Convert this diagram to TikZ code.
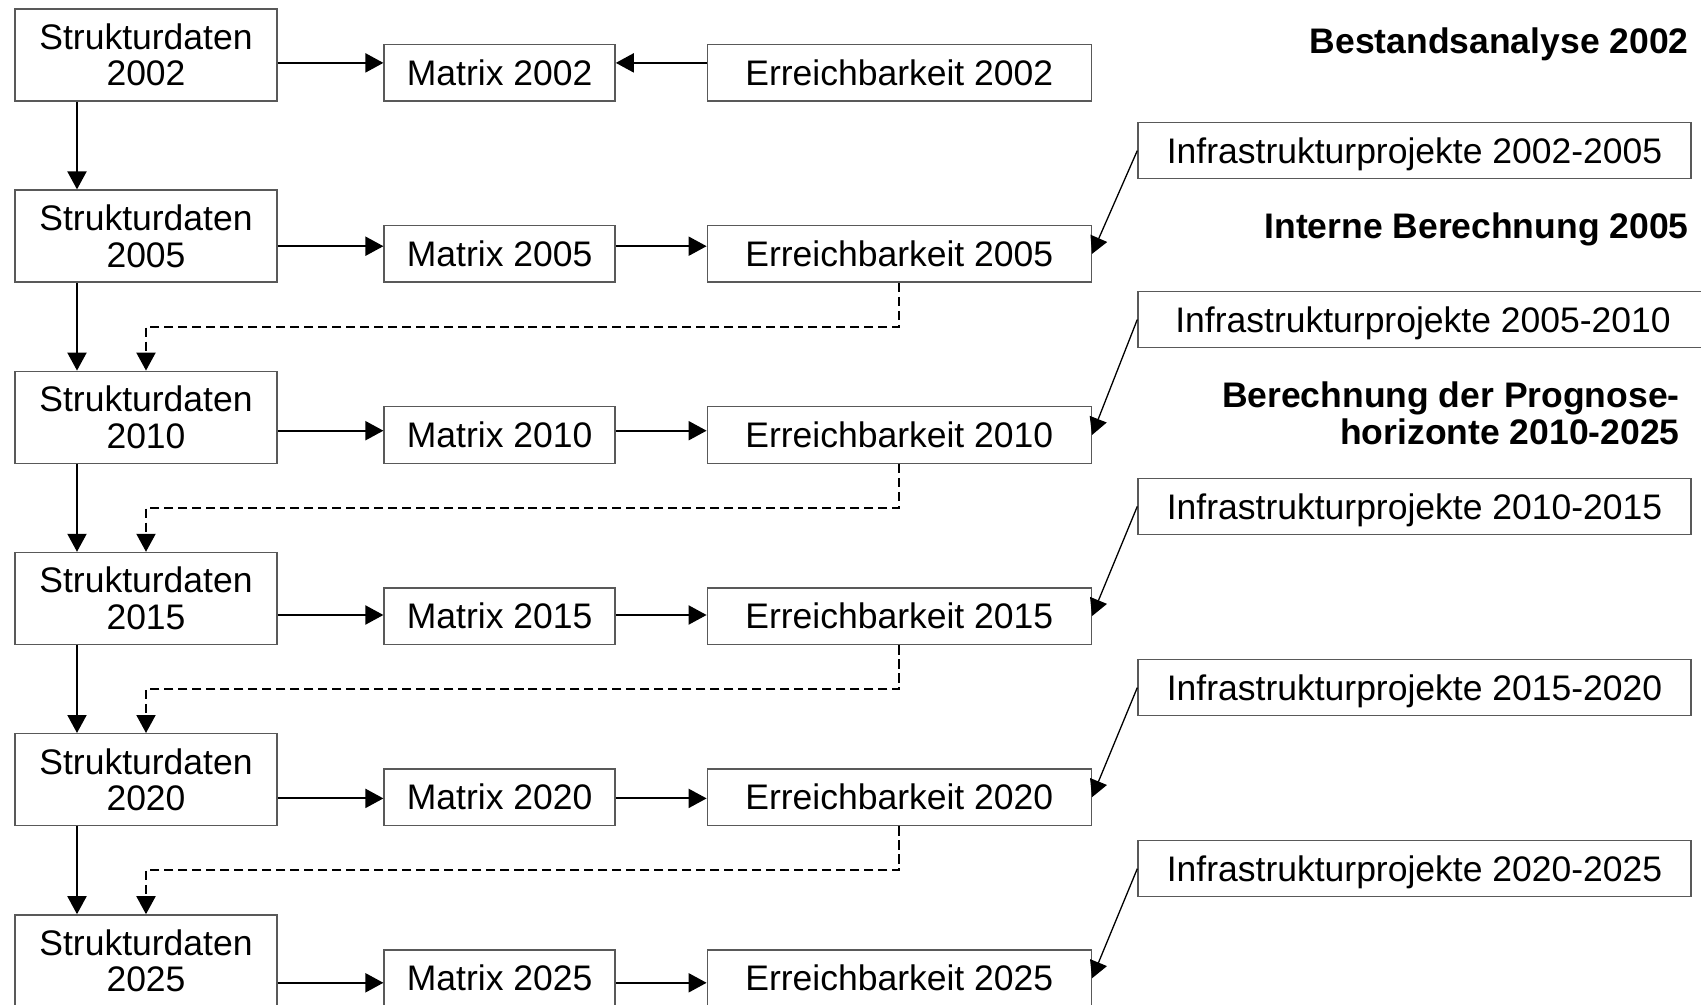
\documentclass[tikz,border=0pt]{standalone}
\usepackage{fontspec}
\setmainfont{Liberation Sans}
\usetikzlibrary{arrows.meta,calc,positioning}
\newcommand{\boxfont}{\fontsize{17.75pt}{18.3pt}\selectfont}

\begin{document}
\begin{tikzpicture}
	% Styles
	[
	x=0.5pt, y=-0.5pt,
	box/.style={rectangle, draw=black!65, line width=0.7pt, inner sep=0pt, align=center, font=\boxfont},
	struct/.style={box, minimum width=131pt, minimum height=46pt},
	mat/.style={box, minimum width=115.5pt, minimum height=28.25pt},
	reach/.style={box, minimum width=192pt, minimum height=28.25pt},
	infra/.style={box, minimum width=276.5pt, minimum height=28pt, text depth=0pt},
	phase/.style={font=\boxfont\bfseries, align=right, anchor=base east, inner sep=0pt},
	arr/.style={-{Triangle[length=9pt,width=9.5pt]}, line width=1pt},
	dsh/.style={arr, dash pattern=on 4.75pt off 2.25pt},
	feed/.style={-{Triangle[length=8.5pt,width=9pt]}, line width=0.65pt}
	]

	\useasboundingbox (0,0) rectangle (1701,1005);
	\clip (0,0) rectangle (1701,1005);

	% Nodes
	\node at (146,54.9)	(s02)	[struct] {Strukturdaten\\2002};
	\node at (146,236.1)	(s05)	[struct] {Strukturdaten\\2005};
	\node at (146,417.3)	(s10)	[struct] {Strukturdaten\\2010};
	\node at (146,598.5)	(s15)	[struct] {Strukturdaten\\2015};
	\node at (146,779.7)	(s20)	[struct] {Strukturdaten\\2020};
	\node at (146,960.9)	(s25)	[struct] {Strukturdaten\\2025};

	\node at (499.6,72.8)	(m02)	[mat] {Matrix 2002};
	\node at (499.6,253.9)	(m05)	[mat] {Matrix 2005};
	\node at (499.6,435)	(m10)	[mat] {Matrix 2010};
	\node at (499.6,616.1)	(m15)	[mat] {Matrix 2015};
	\node at (499.6,797.2)	(m20)	[mat] {Matrix 2020};
	\node at (499.6,978.3)	(m25)	[mat] {Matrix 2025};

	\node at (899.3,72.8)	(e02)	[reach] {Erreichbarkeit 2002};
	\node at (899.3,253.9)	(e05)	[reach] {Erreichbarkeit 2005};
	\node at (899.3,435)	(e10)	[reach] {Erreichbarkeit 2010};
	\node at (899.3,616.1)	(e15)	[reach] {Erreichbarkeit 2015};
	\node at (899.3,797.2)	(e20)	[reach] {Erreichbarkeit 2020};
	\node at (899.3,978.3)	(e25)	[reach] {Erreichbarkeit 2025};

	\node at (1414.5,150.6)	(i05)	[infra] {Infrastrukturprojekte 2002-2005};
	\node at (1423,319.5)	(i10)	[infra, minimum width=285pt] {Infrastrukturprojekte 2005-2010};
	\node at (1414.5,506.4)	(i15)	[infra] {Infrastrukturprojekte 2010-2015};
	\node at (1414.5,687.6)	(i20)	[infra] {Infrastrukturprojekte 2015-2020};
	\node at (1414.5,868.7)	(i25)	[infra] {Infrastrukturprojekte 2020-2025};

	\node at (1689,53.3)	(bestand)	[phase] {Bestandsanalyse 2002};
	\node at (1689,238.3)	(intern)	[phase] {Interne Berechnung 2005};
	\node at (1680,444.5)	(prognose)	[phase] {Berechnung der Prognose-\\horizonte 2010-2025};

	% Connections
	\draw[arr] (s02.east |- 0,62.9) -- (m02.west |- 0,62.9);
	\draw[arr] (e02.west |- 0,62.9) -- (m02.east |- 0,62.9);
	\foreach \yr/\h in {05/246.2, 10/430.7, 15/615, 20/798.4, 25/982.8}{
		\draw[arr] (s\yr.east |- 0,\h) -- (m\yr.west |- 0,\h);
		\draw[arr] (m\yr.east |- 0,\h) -- (e\yr.west |- 0,\h);
		\draw[feed] (i\yr.west) -- (e\yr.east);
	}
	\foreach \a/\b in {02/05, 05/10, 10/15, 15/20, 20/25}
		\draw[arr] ([xshift=-34.5pt]s\a.south) -- ([xshift=-34.5pt]s\b.north);
	\foreach \a/\b in {05/10, 10/15, 15/20, 20/25}
		\draw[dsh] (e\a.south) |- ($(e\a.south)!0.5!(s\b.north)$) -| (s\b.north);

\end{tikzpicture}
\end{document}
